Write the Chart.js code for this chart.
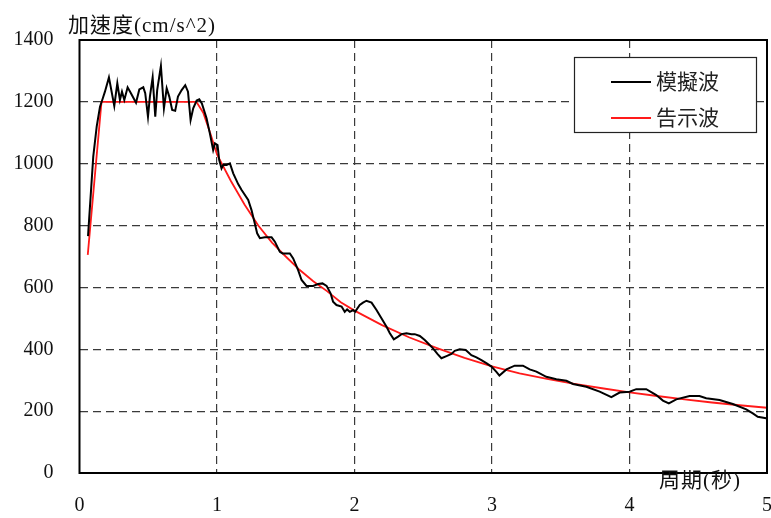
<!DOCTYPE html>
<html>
<head>
<meta charset="utf-8">
<script src="https://cdn.jsdelivr.net/npm/chart.js@4/dist/chart.umd.min.js"></script>
<style>
  html, body { margin: 0; padding: 0; background: #fff; }
  #wrap { width: 771px; height: 518px; }
</style>
</head>
<body>
<div id="wrap"><canvas id="specChart" width="771" height="518"></canvas></div>
<script>
// 模擬波 (simulated wave) response spectrum
var simPeriods = [0.062, 0.100, 0.125, 0.149, 0.169, 0.185, 0.214, 0.253, 0.275, 0.294,
    0.309, 0.326, 0.350, 0.374, 0.411, 0.435, 0.464, 0.478, 0.498, 0.512,
    0.532, 0.551, 0.565, 0.592, 0.614, 0.634, 0.653, 0.674, 0.696, 0.716,
    0.743, 0.769, 0.789, 0.808, 0.827, 0.852, 0.871, 0.890, 0.924, 0.948,
    0.972, 0.985, 1.004, 1.016, 1.033, 1.045, 1.070, 1.094, 1.118, 1.154,
    1.179, 1.227, 1.251, 1.275, 1.292, 1.312, 1.348, 1.397, 1.421, 1.457,
    1.477, 1.530, 1.554, 1.590, 1.615, 1.651, 1.699, 1.735, 1.767, 1.797,
    1.826, 1.844, 1.869, 1.906, 1.929, 1.946, 1.966, 1.990, 2.004, 2.038,
    2.062, 2.087, 2.124, 2.160, 2.196, 2.233, 2.257, 2.286, 2.317, 2.342,
    2.378, 2.414, 2.438, 2.475, 2.511, 2.547, 2.571, 2.603, 2.632, 2.669,
    2.705, 2.729, 2.765, 2.809, 2.850, 2.887, 2.923, 2.959, 2.996, 3.032,
    3.054, 3.105, 3.165, 3.225, 3.274, 3.323, 3.395, 3.468, 3.541, 3.589,
    3.686, 3.783, 3.868, 3.928, 4.001, 4.049, 4.122, 4.195, 4.243, 4.286,
    4.340, 4.437, 4.509, 4.558, 4.655, 4.751, 4.849, 4.897, 4.933, 4.994];
var simAccel = [766, 1023, 1120, 1184, 1211, 1233, 1279, 1187, 1260, 1206,
    1233, 1206, 1247, 1228, 1197, 1240, 1247, 1228, 1152, 1217,
    1279, 1152, 1238, 1316, 1179, 1244, 1217, 1174, 1171, 1217,
    1238, 1254, 1233, 1141, 1179, 1204, 1208, 1195, 1147, 1098,
    1044, 1066, 1060, 1012, 985, 996, 996, 1001, 969, 934,
    915, 883, 850, 807, 775, 759, 762, 762, 748, 715,
    710, 710, 694, 656, 624, 605, 605, 611, 613, 605,
    581, 554, 543, 538, 521, 529, 521, 527, 521, 543,
    551, 557, 551, 527, 500, 473, 452, 432, 441, 449,
    452, 449, 449, 443, 430, 414, 403, 385, 371, 378,
    385, 395, 400, 398, 381, 374, 365, 355, 344, 327,
    315, 335, 347, 347, 335, 328, 311, 303, 298, 288,
    279, 263, 245, 260, 263, 271, 271, 252, 234, 225,
    238, 249, 249, 242, 236, 223, 206, 193, 182, 177];

// 告示波 (code design spectrum)
var codePeriods = [0.06, 0.16, 0.85, 0.90, 0.95, 1.0, 1.1, 1.2, 1.3, 1.4,
    1.5, 1.6, 1.7, 1.8, 1.9, 2.0, 2.2, 2.4, 2.6, 2.8,
    3.0, 3.2, 3.4, 3.6, 3.8, 4.0, 4.2, 4.4, 4.6, 4.8, 5.0];
var codeAccel = [705, 1200, 1200, 1165, 1100, 1030, 945, 868, 800, 745,
    700, 657, 620, 588, 552, 525, 478, 438, 404, 372,
    345, 322, 304, 288, 274, 261, 249, 238, 228, 219, 211];

var seriesNames = ["模擬波", "告示波"];
var yTicks = [0, 200, 400, 600, 800, 1000, 1200, 1400];
var xTicks = [0, 1, 2, 3, 4, 5];
var yTitle = "加速度(cm/s^2)";
var xTitle = "周期(秒)";

var FONT = "'Liberation Serif', 'Noto Sans CJK TC', serif";

function toPoints(xs, ys){
    var pts = [];
    for(var i = 0; i < xs.length; i++){
        pts.push({x: xs[i], y: ys[i]});
    }
    return pts;
}

function gridColor(first, last){
    return function(c){
        var v = c.tick ? c.tick.value : null;
        if(v === first || v === last) return 'rgba(0,0,0,0)';
        return '#3a3a3a';
    };
}

// frame, axis titles and the boxed legend
var decorations = {
    id: 'decorations',
    afterDraw: function(chart){
        var c = chart.ctx, a = chart.chartArea;
        c.save();
        c.strokeStyle = '#000';
        c.lineWidth = 2;
        c.strokeRect(a.left, a.top, a.right - a.left, a.bottom - a.top);

        c.fillStyle = '#111';
        c.font = "21px " + FONT;
        c.textBaseline = 'middle';
        if('letterSpacing' in c) c.letterSpacing = '1px';
        c.textAlign = 'left';
        c.fillText(yTitle, 68, 26);
        c.textAlign = 'right';
        c.fillText(xTitle, 741, 481);
        if('letterSpacing' in c) c.letterSpacing = '0px';

        // legend
        var bx = 574, by = 57, bw = 182, bh = 75;
        c.fillStyle = '#fff';
        c.fillRect(bx, by, bw, bh);
        c.lineWidth = 1.2;
        c.strokeStyle = '#222';
        c.strokeRect(bx + 0.5, by + 0.5, bw, bh);
        var rows = [{y: 82, color: '#000', w: 2}, {y: 118, color: '#ff1a1a', w: 1.8}];
        c.font = "21px " + FONT;
        c.textAlign = 'left';
        for(var i = 0; i < rows.length; i++){
            c.strokeStyle = rows[i].color;
            c.lineWidth = rows[i].w;
            c.beginPath();
            c.moveTo(611, rows[i].y);
            c.lineTo(651, rows[i].y);
            c.stroke();
            c.fillStyle = '#222';
            c.fillText(seriesNames[i], 656, rows[i].y + 1);
        }
        c.restore();
    }
};

var ctx = document.getElementById("specChart").getContext("2d");
var specChart = new Chart(ctx, {
    type: 'line',
    data: {
        datasets: [
            {
                label: seriesNames[0],
                data: toPoints(simPeriods, simAccel),
                borderColor: '#000',
                borderWidth: 2,
                pointRadius: 0,
                fill: false,
                tension: 0
            },
            {
                label: seriesNames[1],
                data: toPoints(codePeriods, codeAccel),
                borderColor: '#ff1a1a',
                borderWidth: 1.8,
                pointRadius: 0,
                fill: false,
                tension: 0
            }
        ]
    },
    options: {
        responsive: false,
        animation: false,
        events: [],
        layout: {padding: {top: 40, right: 4, left: 0, bottom: 0}},
        plugins: {
            legend: {display: false},
            tooltip: {enabled: false}
        },
        scales: {
            x: {
                type: 'linear',
                min: 0,
                max: 5,
                afterBuildTicks: function(scale){
                    scale.ticks = xTicks.map(function(v){ return {value: v}; });
                },
                afterFit: function(scale){
                    scale.height = 45;
                    scale.paddingLeft = 0;
                    scale.paddingRight = 0;
                },
                ticks: {
                    color: '#111',
                    padding: 21,
                    maxRotation: 0,
                    font: {family: FONT, size: 20},
                    callback: function(v){ return v; }
                },
                grid: {color: gridColor(0, 5), lineWidth: 1.2, drawTicks: false},
                border: {display: false, dash: [8, 5]}
            },
            y: {
                min: 0,
                max: 1400,
                afterBuildTicks: function(scale){
                    scale.ticks = yTicks.map(function(v){ return {value: v}; });
                },
                afterFit: function(scale){
                    scale.width = 79.5;
                    scale.paddingTop = 0;
                    scale.paddingBottom = 0;
                },
                ticks: {
                    color: '#111',
                    padding: 26,
                    font: {family: FONT, size: 20},
                    callback: function(v){ return v; }
                },
                grid: {color: gridColor(0, 1400), lineWidth: 1.2, drawTicks: false},
                border: {display: false, dash: [8, 5]}
            }
        }
    },
    plugins: [decorations]
});
</script>
</body>
</html>
